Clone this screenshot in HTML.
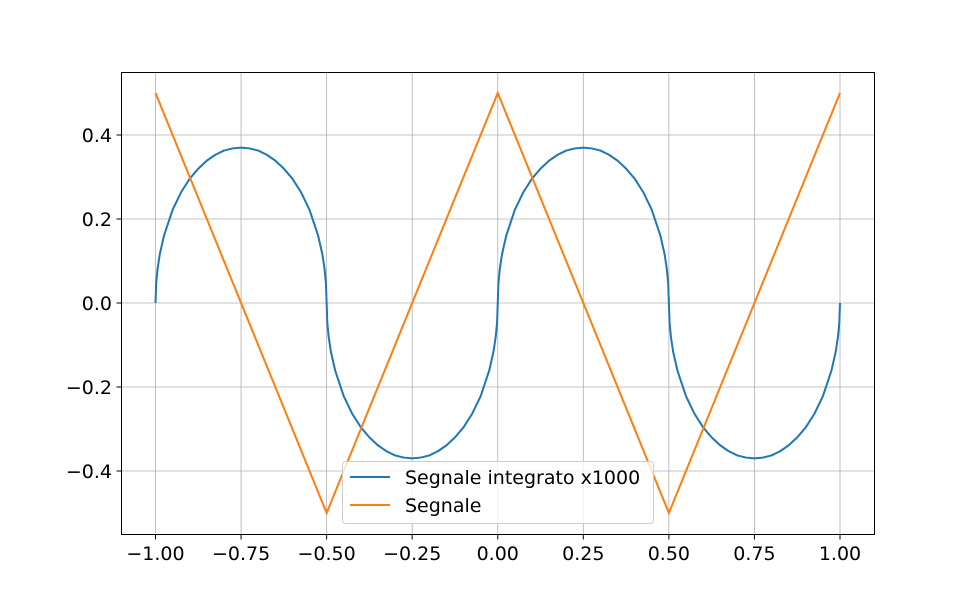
<!DOCTYPE html>
<html><head><meta charset="utf-8"><style>
body{margin:0;background:#fff}
svg text{font-family:"DejaVu Sans","Liberation Sans",sans-serif;font-size:19px;fill:#000}
</style></head><body>
<svg id="chart" width="970" height="600">
<rect x="0" y="0" width="970" height="600" fill="#fff"/>
<g id="grid"></g>
<g id="series"></g>
<rect x="121.5" y="72.5" width="753" height="462" fill="none" stroke="#000" stroke-width="1"/>
<g id="ticks"></g>
<g>
<rect x="342.5" y="461.5" width="311" height="62" rx="3" fill="#fff" fill-opacity="0.8" stroke="#ccc"/>
<line x1="350" y1="477" x2="390" y2="477" stroke="#1f77b4" stroke-width="2"/>
<text x="405" y="484">Segnale integrato x1000</text>
<line x1="350" y1="505" x2="390" y2="505" stroke="#ff7f0e" stroke-width="2"/>
<text x="405" y="512">Segnale</text>
</g>
</svg>
<script>
const xTicks=[-1,-0.75,-0.5,-0.25,0,0.25,0.5,0.75,1];
const xTickLabels=["\u22121.00","\u22120.75","\u22120.50","\u22120.25","0.00","0.25","0.50","0.75","1.00"];
const yTicks=[-0.4,-0.2,0,0.2,0.4];
const yTickLabels=["\u22120.4","\u22120.2","0.0","0.2","0.4"];
const signalX=[-1,-0.5,0,0.5,1];
const signalY=[0.5,-0.5,0.5,-0.5,0.5];
const halfOffsets=[0,0.002,0.006,0.0125,0.025,0.05,0.075,0.1,0.125,0.15,0.175,0.2,0.225,0.25,0.275,0.3,0.325,0.35,0.375,0.4,0.425,0.45,0.475,0.4875,0.494,0.498,0.5];
const halfArc=[0,0.047,0.081,0.116,0.161,0.222,0.264,0.296,0.320,0.339,0.353,0.363,0.368,0.370,0.368,0.363,0.353,0.339,0.320,0.296,0.264,0.222,0.161,0.116,0.081,0.047,0];
const halfStarts=[-1,-0.5,0,0.5];
const halfSigns=[1,-1,1,-1];
const integX=[],integY=[];
halfStarts.forEach((s0,k)=>halfArc.forEach((v,i)=>{if(k>0&&i===0)return;integX.push(s0+halfOffsets[i]);integY.push(halfSigns[k]*v);}));
const NS="http://www.w3.org/2000/svg";
const sx=v=>497.75+v*342.25;
const sy=v=>303-v*420;
const grid=document.getElementById('grid'),ticks=document.getElementById('ticks'),ser=document.getElementById('series');
function mk(tag,attrs,parent){const e=document.createElementNS(NS,tag);for(const k in attrs)e.setAttribute(k,attrs[k]);parent.appendChild(e);return e;}
xTicks.forEach((v,i)=>{
 const g=mk('line',{x1:sx(v),x2:sx(v),y1:72.5,y2:534.5,stroke:'#b0b0b0','stroke-width':0.8},grid);
 
 
 const t=mk('line',{x1:sx(v),x2:sx(v),y1:534.5,y2:539.5,stroke:'#000'},ticks);
 
 
 const l=mk('text',{x:sx(v),y:560,'text-anchor':'middle'},ticks);l.textContent=xTickLabels[i];
 
 
});
yTicks.forEach((v,i)=>{
 const g=mk('line',{x1:121.5,x2:874.5,y1:sy(v),y2:sy(v),stroke:'#b0b0b0','stroke-width':0.8},grid);
 
 
 const t=mk('line',{x1:116.5,x2:121.5,y1:sy(v),y2:sy(v),stroke:'#000'},ticks);
 
 
 const l=mk('text',{x:112,y:sy(v)+7,'text-anchor':'end'},ticks);l.textContent=yTickLabels[i];
 
 
});
const p1=mk('polyline',{points:integX.map((x,i)=>sx(x)+','+sy(integY[i])).join(' '),fill:'none',stroke:'#1f77b4','stroke-width':2,'stroke-linejoin':'round'},ser);


const p2=mk('polyline',{points:signalX.map((x,i)=>sx(x)+','+sy(signalY[i])).join(' '),fill:'none',stroke:'#ff7f0e','stroke-width':2},ser);


</script>
</body></html>
